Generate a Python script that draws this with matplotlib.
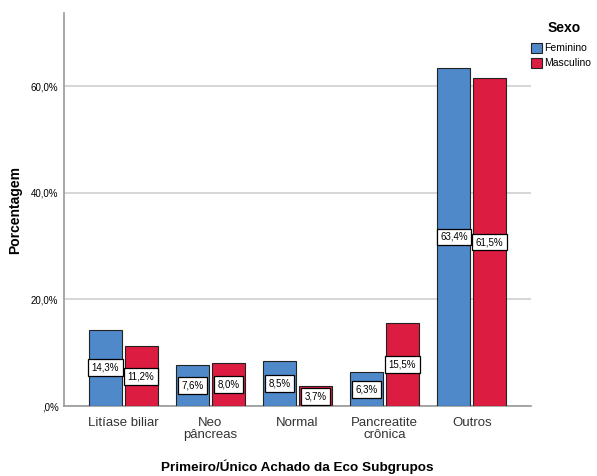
import matplotlib
matplotlib.use("Agg")
import matplotlib.pyplot as plt
import numpy as np

plt.rcParams['font.family'] = ['Liberation Sans', 'DejaVu Sans']

categorias = ["Litíase biliar", "Neo\npâncreas", "Normal", "Pancreatite\ncrônica", "Outros"]
feminino = [14.3, 7.6, 8.5, 6.3, 63.4]
masculino = [11.2, 8.0, 3.7, 15.5, 61.5]
yticks = [0, 20, 40, 60]
ytick_labels = [",0%", "20,0%", "40,0%", "60,0%"]

cor_fem = "#5089C9"
cor_masc = "#DC1C40"

fig = plt.figure(figsize=(5.97, 4.76), dpi=100)
ax = fig.add_axes([64 / 597, 1 - 406 / 476, 467 / 597, 393 / 476])

x = np.arange(len(categorias))
w = 0.38
off = 0.205
b1 = ax.bar(x - off, feminino, w, color=cor_fem, edgecolor="#222222", linewidth=0.8, label="Feminino", zorder=3)
b2 = ax.bar(x + off, masculino, w, color=cor_masc, edgecolor="#222222", linewidth=0.8, label="Masculino", zorder=3)

# rótulos no meio das barras
for bars, vals in [(b1, feminino), (b2, masculino)]:
    for rect, v in zip(bars, vals):
        ax.text(rect.get_x() + rect.get_width() / 2, v / 2, f"{v:.1f}%".replace(".", ","),
                ha="center", va="center", fontsize=7, zorder=4,
                bbox=dict(boxstyle="square,pad=0.35", facecolor="white", edgecolor="black", linewidth=0.9))

ax.set_xlim(-0.68, 4.68)
ax.set_ylim(0, 73.7)
ax.set_yticks(yticks)
ax.set_yticklabels(ytick_labels, fontsize=7)
ax.set_xticks(x)
ax.set_xticklabels(categorias, fontsize=9.5, color="#333333", linespacing=0.95)
ax.tick_params(axis="x", length=0, pad=8)
ax.tick_params(axis="y", length=0, pad=4)
ax.grid(axis="y", color="#D0D0D0", linewidth=1.2, zorder=0)
for s in ["top", "right"]:
    ax.spines[s].set_visible(False)
for s in ["left", "bottom"]:
    ax.spines[s].set_color("#999999")
    ax.spines[s].set_linewidth(1.2)

fig.text(15 / 597, 1 - 210 / 476, "Porcentagem", rotation=90, ha="center", va="center",
         fontsize=10, fontweight="bold")
fig.text(297.5 / 597, 1 - 467 / 476, "Primeiro/Único Achado da Eco Subgrupos", ha="center", va="center",
         fontsize=9.7, fontweight="bold")

fig.text(564 / 597, 1 - 28 / 476, "Sexo", ha="center", va="center", fontsize=10, fontweight="bold")
leg = fig.legend(handles=[b1, b2], loc="upper left", bbox_to_anchor=(531 / 597, 1 - 43 / 476),
                 frameon=False, fontsize=7.5, handlelength=1.05, handleheight=1.05,
                 handletextpad=0.25, labelspacing=0.45, borderaxespad=0, borderpad=0)

fig.savefig("out.png", dpi=100)
